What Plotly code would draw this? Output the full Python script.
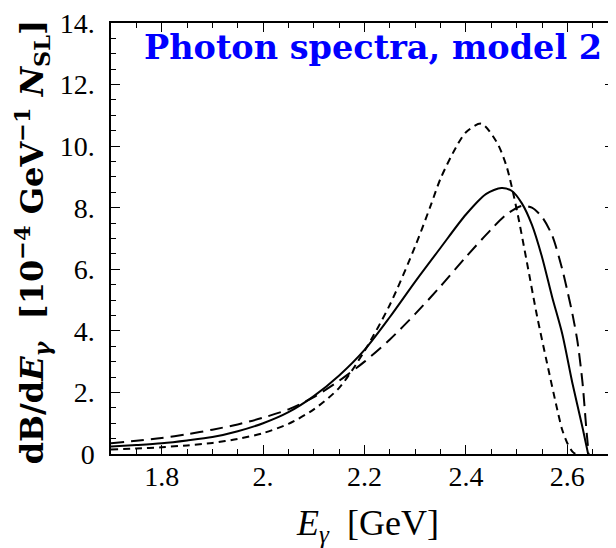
import plotly.graph_objects as go

# Solid curve
x_solid = [1.70, 1.75, 1.80, 1.85, 1.90, 1.95, 2.00, 2.05, 2.10, 2.15, 2.20, 2.25, 2.30, 2.35,
           2.40, 2.44, 2.47, 2.49, 2.51, 2.53, 2.55, 2.57, 2.59, 2.61, 2.63, 2.641]
y_solid = [0.24, 0.29, 0.35, 0.44, 0.55, 0.74, 1.00, 1.36, 1.88, 2.55, 3.38, 4.45, 5.60, 6.70,
           7.78, 8.45, 8.64, 8.55, 8.15, 7.45, 6.40, 5.10, 3.90, 2.30, 0.85, 0.0]

# Long-dashed curve
x_long = [1.70, 1.75, 1.80, 1.85, 1.90, 1.95, 2.00, 2.05, 2.10, 2.15, 2.20, 2.25, 2.30, 2.35,
          2.40, 2.45, 2.48, 2.51, 2.53, 2.55, 2.57, 2.59, 2.60, 2.61, 2.62, 2.63, 2.637, 2.642]
y_long = [0.35, 0.43, 0.52, 0.64, 0.79, 0.96, 1.18, 1.45, 1.85, 2.38, 3.00, 3.72, 4.55, 5.45,
          6.40, 7.30, 7.78, 8.06, 8.00, 7.70, 7.10, 6.00, 5.30, 4.55, 3.65, 2.30, 0.90, 0.0]

# Short-dashed curve
x_short = [1.70, 1.75, 1.80, 1.85, 1.90, 1.95, 2.00, 2.05, 2.10, 2.15, 2.20, 2.25, 2.30, 2.33,
           2.35, 2.38, 2.40, 2.43, 2.46, 2.48, 2.50, 2.52, 2.54, 2.56, 2.58, 2.59, 2.60, 2.61, 2.616]
y_short = [0.15, 0.18, 0.22, 0.28, 0.36, 0.49, 0.68, 0.98, 1.45, 2.15, 3.35, 4.85, 6.75, 8.05,
           8.95, 9.95, 10.45, 10.73, 10.15, 9.35, 7.95, 6.25, 4.50, 2.95, 1.45, 0.78, 0.35, 0.08, 0.0]

x_tickvals = [1.8, 2.0, 2.2, 2.4, 2.6]
x_ticktext = ["1.8", "2.", "2.2", "2.4", "2.6"]
y_tickvals = [0, 2, 4, 6, 8, 10, 12, 14]
y_ticktext = ["0", "2.", "4.", "6.", "8.", "10.", "12.", "14."]

fig = go.Figure()
fig.add_trace(go.Scatter(x=x_short, y=y_short, mode="lines",
                         line=dict(color="black", width=2, dash="7px,5px", shape="spline", smoothing=0.8)))
fig.add_trace(go.Scatter(x=x_long, y=y_long, mode="lines",
                         line=dict(color="black", width=2, dash="13px,7px", shape="spline", smoothing=0.8)))
fig.add_trace(go.Scatter(x=x_solid, y=y_solid, mode="lines",
                         line=dict(color="black", width=2, shape="spline", smoothing=0.8)))

tickfont = dict(family="Liberation Serif", size=28, color="black")

fig.update_xaxes(range=[1.7, 2.692], showgrid=False, zeroline=False,
                 showline=True, linecolor="black", linewidth=1.5, mirror="ticks",
                 ticks="inside", ticklen=9, tickwidth=1, tickcolor="black",
                 tickmode="array", tickvals=x_tickvals, ticktext=x_ticktext,
                 tickfont=tickfont, ticklabelstandoff=-3, ticklabeloverflow="allow",
                 minor=dict(ticks="inside", ticklen=5, tickwidth=1, tickcolor="black",
                            tickmode="linear", tick0=1.7, dtick=0.05, showgrid=False))
fig.update_yaxes(range=[0, 14], showgrid=False, zeroline=False,
                 showline=True, linecolor="black", linewidth=1.5, mirror="ticks",
                 ticks="inside", ticklen=9, tickwidth=1, tickcolor="black",
                 tickmode="array", tickvals=y_tickvals, ticktext=y_ticktext,
                 tickfont=tickfont, ticklabelstandoff=9, ticklabeloverflow="allow",
                 minor=dict(ticks="inside", ticklen=5, tickwidth=1, tickcolor="black",
                            tickmode="linear", tick0=0, dtick=0.5, showgrid=False))

fig.add_annotation(text="<b>Photon spectra, model 2</b>", xref="paper", yref="paper",
                   x=0.062, y=0.942, xanchor="left", yanchor="middle", showarrow=False,
                   font=dict(family="DejaVu Serif", size=33.5, color="#0000FF"))
fig.add_annotation(text="<i>E</i><sub><i>γ</i></sub>  [GeV]", xref="paper", yref="paper",
                   x=0.509, y=-0.167, xanchor="center", yanchor="middle", showarrow=False,
                   font=dict(family="Liberation Serif", size=36, color="black"))
fig.add_annotation(text="<b>dB/d<i>E</i><sub><i>γ</i></sub>&nbsp;&nbsp;[10<sup>−4</sup>&nbsp;GeV<sup>−1</sup>&nbsp;<i>N</i><sub>SL</sub>]</b>",
                   xref="paper", yref="paper", x=-0.158, y=0.49, textangle=-90,
                   xanchor="center", yanchor="middle", showarrow=False,
                   font=dict(family="DejaVu Serif", size=32, color="black"))

# the page adds an 8px body margin, so the figure is shifted by 8px right and down
fig.update_layout(width=608, height=540, showlegend=False,
                  margin=dict(l=103, r=0, t=15, b=94),
                  plot_bgcolor="white", paper_bgcolor="white")

fig.write_html("out.html")
